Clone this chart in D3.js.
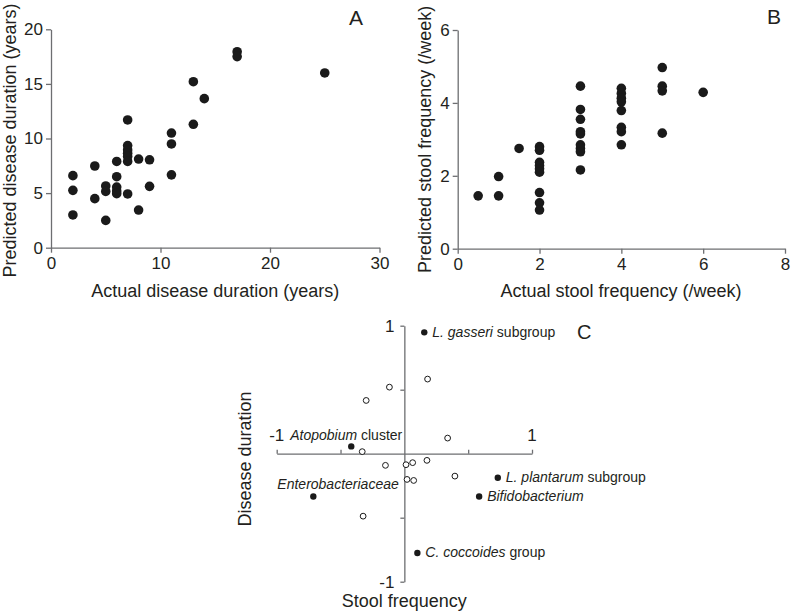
<!DOCTYPE html>
<html>
<head>
<meta charset="utf-8">
<script src="https://cdn.jsdelivr.net/npm/d3@7"></script>
<style>
  html, body { margin: 0; padding: 0; background: #fff; }
  svg { display: block; font-family: "Liberation Sans", Arial, sans-serif; }
</style>
</head>
<body>
<svg id="chart" width="791" height="615"></svg>
<script>
// ---------- Data ----------
// Panel A: disease duration (years)
const durationActual    = [2, 2, 2, 4, 4, 5, 5, 5, 6, 6, 6, 6, 6, 7, 7, 7, 7, 7, 7, 7, 8, 8, 9, 9, 11, 11, 11, 13, 13, 14, 17, 17, 25];
const durationPredicted = [6.6, 5.25, 3.0, 7.48, 4.49, 5.65, 5.15, 2.5, 7.9, 6.5, 5.55, 5.2, 4.95, 11.7, 9.35, 8.95, 8.65, 8.35, 7.9, 4.92, 8.12, 3.45, 8.05, 5.62, 10.5, 9.5, 6.67, 15.2, 11.3, 13.65, 17.95, 17.5, 16.0];
const durationXTicks = [0, 10, 20, 30];
const durationYTicks = [0, 5, 10, 15, 20];

// Panel B: stool frequency (/week)
const stoolActual    = [0.5, 1, 1, 1.5, 2, 2, 2, 2, 2, 2, 2, 2, 2, 3, 3, 3, 3, 3, 3, 3, 3, 3, 4, 4, 4, 4, 4, 4, 4, 4, 5, 5, 5, 5, 6];
const stoolPredicted = [1.45, 1.98, 1.45, 2.75, 2.8, 2.7, 2.37, 2.28, 2.19, 2.1, 1.54, 1.26, 1.06, 4.46, 3.82, 3.55, 3.21, 3.15, 2.85, 2.75, 2.66, 2.16, 4.40, 4.26, 4.13, 4.03, 3.79, 3.33, 3.21, 2.85, 4.97, 4.46, 4.33, 3.17, 4.29];
const stoolXTicks = [0, 2, 4, 6, 8];
const stoolYTicks = [0, 2, 4, 6];

// Panel C: loadings (stool frequency, disease duration)
const namedTaxa     = ["L. gasseri|subgroup", "Atopobium|cluster", "Enterobacteriaceae|", "L. plantarum|subgroup", "Bifidobacterium|", "C. coccoides|group"];
const namedStool    = [0.156, -0.416, -0.713, 0.732, 0.586, 0.102];
const namedDuration = [0.948, 0.057, -0.334, -0.188, -0.334, -0.776];
const otherStool    = [0.182, -0.117, -0.299, 0.339, -0.33, -0.148, 0.013, 0.065, 0.177, 0.396, 0.021, 0.073, -0.323];
const otherDuration = [0.583, 0.52, 0.416, 0.122, 0.016, -0.091, -0.086, -0.07, -0.052, -0.175, -0.201, -0.209, -0.488];
const loadingTicks = [-1, -0.5, 0.5, 1];
const loadingTickLabels = [-1, 1];

// ---------- Layout (not data) ----------
const labelLayout = [
  {dx: 8,   dy: 4.5, anchor: "start"},
  {dx: 51,  dy: -6,  anchor: "end"},
  {dx: -36, dy: -7,  anchor: "start"},
  {dx: 8,   dy: 4.5, anchor: "start"},
  {dx: 8,   dy: 4.7, anchor: "start"},
  {dx: 8,   dy: 4,   anchor: "start"}
];

const TEXT = "#231f20";
const AXIS = "#6d6e71";
const DOT  = "#1a1a1a";

const svg = d3.select("#chart");

function styleAxis(g) {
  g.selectAll("path.domain").attr("stroke", AXIS).attr("stroke-width", 1.3);
  g.selectAll(".tick line").attr("stroke", AXIS).attr("stroke-width", 1.3);
  g.selectAll(".tick text").attr("fill", TEXT).attr("font-size", 17)
    .attr("font-family", "'Liberation Sans', Arial, sans-serif");
}

// ---------- Panel A ----------
const xA = d3.scaleLinear().domain([0, 30]).range([51, 379.5]);
const yA = d3.scaleLinear().domain([0, 20]).range([247.7, 29.3]);

svg.append("g").attr("transform", `translate(0,${yA(0)})`)
  .call(d3.axisBottom(xA).tickValues(durationXTicks).tickSizeInner(5).tickSizeOuter(0).tickPadding(4).tickFormat(d3.format("d")))
  .call(styleAxis);
svg.append("g").attr("transform", `translate(${xA(0)},0)`)
  .call(d3.axisLeft(yA).tickValues(durationYTicks).tickSizeInner(5).tickSizeOuter(0).tickPadding(3).tickFormat(d3.format("d")))
  .call(styleAxis);

svg.append("g").selectAll("circle").data(durationActual).join("circle")
  .attr("cx", (d) => xA(d))
  .attr("cy", (d, i) => yA(durationPredicted[i]))
  .attr("r", 4.8).attr("fill", DOT);

svg.append("text").attr("x", (xA(0) + xA(30)) / 2).attr("y", 297)
  .attr("text-anchor", "middle").attr("font-size", 18).attr("fill", TEXT)
  .text("Actual disease duration (years)");
svg.append("text").attr("transform", `translate(16,${(yA(0) + yA(20)) / 2 + 2}) rotate(-90)`)
  .attr("text-anchor", "middle").attr("font-size", 18).attr("fill", TEXT)
  .text("Predicted disease duration (years)");
svg.append("text").attr("x", 356).attr("y", 25).attr("text-anchor", "middle")
  .attr("font-size", 21).attr("fill", TEXT).text("A");

// ---------- Panel B ----------
const xB = d3.scaleLinear().domain([0, 8]).range([457.7, 785]);
const yB = d3.scaleLinear().domain([0, 6]).range([248.7, 30]);

svg.append("g").attr("transform", `translate(0,${yB(0)})`)
  .call(d3.axisBottom(xB).tickValues(stoolXTicks).tickSizeInner(5).tickSizeOuter(0).tickPadding(4).tickFormat(d3.format("d")))
  .call(styleAxis);
svg.append("g").attr("transform", `translate(${xB(0)},0)`)
  .call(d3.axisLeft(yB).tickValues(stoolYTicks).tickSizeInner(5).tickSizeOuter(0).tickPadding(3).tickFormat(d3.format("d")))
  .call(styleAxis);

svg.append("g").selectAll("circle").data(stoolActual).join("circle")
  .attr("cx", (d) => xB(d))
  .attr("cy", (d, i) => yB(stoolPredicted[i]))
  .attr("r", 4.8).attr("fill", DOT);

svg.append("text").attr("x", 621).attr("y", 297)
  .attr("text-anchor", "middle").attr("font-size", 18).attr("fill", TEXT)
  .text("Actual stool frequency (/week)");
svg.append("text").attr("transform", `translate(431,${(yB(0) + yB(6)) / 2}) rotate(-90)`)
  .attr("text-anchor", "middle").attr("font-size", 18).attr("fill", TEXT)
  .text("Predicted stool frequency (/week)");
svg.append("text").attr("x", 774).attr("y", 24).attr("text-anchor", "middle")
  .attr("font-size", 21).attr("fill", TEXT).text("B");

// ---------- Panel C ----------
const xC = d3.scaleLinear().domain([-1, 1]).range([276.7, 532]);
const yC = d3.scaleLinear().domain([-1, 1]).range([581.7, 325.7]);

svg.append("g").attr("transform", `translate(0,${yC(0)})`)
  .call(d3.axisTop(xC).tickValues(loadingTicks).tickSizeInner(4).tickSizeOuter(0).tickFormat(""))
  .call(styleAxis);
svg.append("g").attr("transform", `translate(${xC(0)},0)`)
  .call(d3.axisLeft(yC).tickValues(loadingTicks).tickSizeInner(4).tickSizeOuter(0).tickFormat(""))
  .call(styleAxis);

// tick labels for panel C
svg.append("g").selectAll("text").data(loadingTickLabels).join("text")
  .attr("x", (d) => xC(d))
  .attr("y", yC(0) - 13)
  .attr("text-anchor", "middle").attr("font-size", 17).attr("fill", TEXT)
  .text((d) => d);
svg.append("g").selectAll("text").data(loadingTickLabels).join("text")
  .attr("x", xC(0) - 10)
  .attr("y", (d) => yC(d) + 6)
  .attr("text-anchor", "end").attr("font-size", 17).attr("fill", TEXT)
  .text((d) => d);

// open markers
svg.append("g").selectAll("circle").data(otherStool).join("circle")
  .attr("cx", (d) => xC(d))
  .attr("cy", (d, i) => yC(otherDuration[i]))
  .attr("r", 2.9).attr("fill", "#fff").attr("stroke", DOT).attr("stroke-width", 1);

// named markers
svg.append("g").selectAll("circle").data(namedStool).join("circle")
  .attr("cx", (d) => xC(d))
  .attr("cy", (d, i) => yC(namedDuration[i]))
  .attr("r", 3.2).attr("fill", DOT);

const lbl = svg.append("g").selectAll("text").data(namedTaxa).join("text")
  .attr("x", (d, i) => xC(namedStool[i]) + labelLayout[i].dx)
  .attr("y", (d, i) => yC(namedDuration[i]) + labelLayout[i].dy)
  .attr("text-anchor", (d, i) => labelLayout[i].anchor)
  .attr("font-size", 14).attr("fill", TEXT);
lbl.each(function (d) {
  const [it, rest] = d.split("|");
  const t = d3.select(this);
  t.append("tspan").attr("font-style", "italic").text(it);
  if (rest) t.append("tspan").text(" " + rest);
});

svg.append("text").attr("x", xC(0)).attr("y", 607)
  .attr("text-anchor", "middle").attr("font-size", 18).attr("fill", TEXT)
  .text("Stool frequency");
svg.append("text").attr("transform", `translate(251,459) rotate(-90)`)
  .attr("text-anchor", "middle").attr("font-size", 18).attr("fill", TEXT)
  .text("Disease duration");
svg.append("text").attr("x", 577).attr("y", 339).attr("text-anchor", "start")
  .attr("font-size", 20).attr("fill", TEXT).text("C");
</script>
</body>
</html>
